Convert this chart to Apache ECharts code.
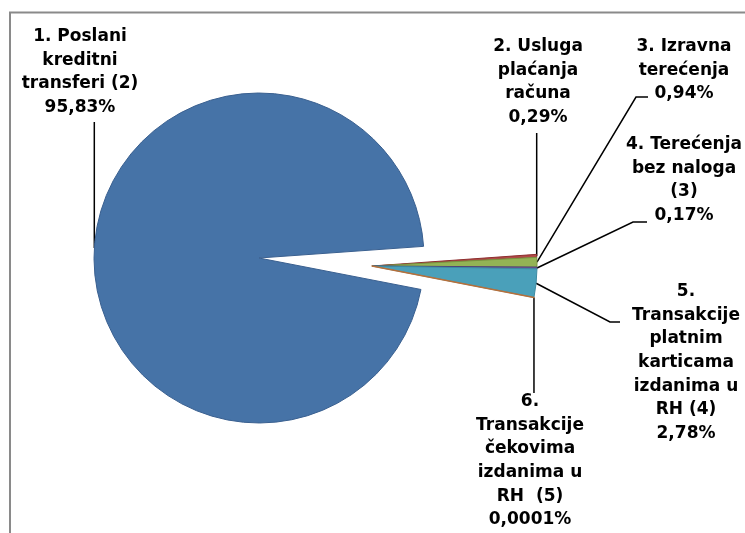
<!DOCTYPE html>
<html>
<head>
<meta charset="utf-8">
<script src="https://cdn.jsdelivr.net/npm/echarts@6/dist/echarts.min.js"></script>
<style>
  html, body { margin: 0; padding: 0; background: #fff; }
  #chart { width: 745px; height: 533px; }
</style>
</head>
<body>
<div id="chart"></div>
<script>
// udjeli platnih transakcija (%)
const categories = [
  '1. Poslani\nkreditni\ntransferi (2)',
  '2. Usluga\nplaćanja\nračuna',
  '3. Izravna\nterećenja',
  '4. Terećenja\nbez naloga\n(3)',
  '5.\nTransakcije\nplatnim\nkarticama\nizdanima u\nRH (4)',
  '6.\nTransakcije\nčekovima\nizdanima u\nRH  (5)'
]
const shares = [95.83, 0.29, 0.94, 0.17, 2.78, 0.0001]
// koji isječak je u glavnom krugu, ostali su izvučeni
const inMain = [true, false, false, false, false, false]

const fills = ['#4673A7', '#B04A47', '#93B355', '#7560A0', '#4AA0BA', '#E8883D']
const borders = ['#3A6090', '#8E2F2F', '#78943F', '#4E3F78', '#3C8AA2', '#B8703A']

// gdje stoje natpisi i kako idu linije do njih
const labelSpots = [
  { x: 80, y: 25, end: 122 },
  { x: 538, y: 35, end: 133 },
  { x: 684, y: 35, bend: [636, 97], end: [648, 97] },
  { x: 684, y: 133, bend: [633, 222], end: [647, 222] },
  { x: 686, y: 280, bend: [610, 322], end: [620, 322] },
  { x: 530, y: 390, end: 393 }
]

const fmt = v => String(v).replace('.', ',') + '%'

function buildData(showMain) {
  return shares.map((v, i) => {
    const visible = inMain[i] === showMain
    return {
      name: categories[i],
      value: v,
      itemStyle: visible
        ? { color: fills[i], borderColor: borders[i], borderWidth: i === 5 ? 1.5 : 1 }
        : { color: 'rgba(0,0,0,0)', borderWidth: 0 },
      label: { show: visible },
      labelLine: { show: visible }
    }
  })
}

const labelStyle = {
  formatter: p => p.name + '\n' + fmt(p.value),
  fontFamily: 'DejaVu Sans',
  fontWeight: 'bold',
  fontSize: 17,
  lineHeight: 23.6,
  color: '#000',
  align: 'center'
}

function layoutLabel(p) {
  const spot = labelSpots[p.dataIndex]
  const a = p.labelLinePoints ? p.labelLinePoints[0] : [spot.x, spot.y]
  let pts
  if (spot.bend) {
    pts = [a, spot.bend, spot.end]
  } else {
    pts = [a, [a[0], spot.end]]
  }
  return {
    x: spot.x,
    y: spot.y,
    align: 'center',
    verticalAlign: 'top',
    labelLinePoints: pts
  }
}

const pieBase = {
  type: 'pie',
  radius: 165,
  startAngle: -11,
  clockwise: true,
  avoidLabelOverlap: false,
  emphasis: { disabled: true },
  label: labelStyle,
  labelLine: { show: true, lineStyle: { color: '#000', width: 1.5 } },
  labelLayout: layoutLabel
}

const chart = echarts.init(document.getElementById('chart'))
chart.setOption({
  animation: false,
  backgroundColor: '#fff',
  graphic: [{
    type: 'polyline',
    silent: true,
    z: -1,
    shape: { points: [[10, 533], [10, 12.5], [745, 12.5]] },
    style: { stroke: '#8a8a8a', lineWidth: 2, fill: null }
  }],
  series: [
    Object.assign({}, pieBase, { center: [259, 258], data: buildData(true) }),
    Object.assign({}, pieBase, { center: [372, 266], data: buildData(false) })
  ]
})
</script>
</body>
</html>
